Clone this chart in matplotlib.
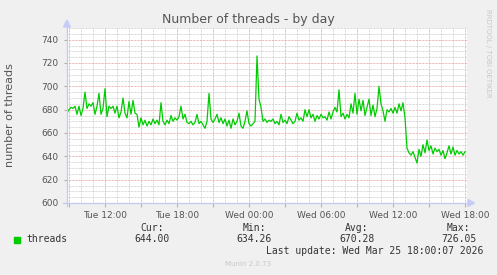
import pandas as pd
import matplotlib
matplotlib.use("Agg")
import matplotlib.pyplot as plt
import matplotlib.dates as mdates
from matplotlib.patches import Polygon, Rectangle
from matplotlib.lines import Line2D
from matplotlib.ticker import MultipleLocator, FixedLocator

# ---------- Data (10 min samples, Tue 08:50 -> Wed 18:00) ----------
times = pd.date_range("2026-03-24 08:50", "2026-03-25 18:00", freq="10min")

threads = [
    677, 680, 682, 681, 683, 676, 683, 675, 681, 695,
    681, 685, 683, 686, 676, 683, 694, 676, 681, 698,
    674, 683, 681, 683, 677, 683, 673, 678, 690, 677,
    673, 687, 676, 688, 677,
    676, 665, 673, 667, 671, 666, 670, 667, 672, 668,
    671, 667, 686, 670, 667, 671, 668, 675, 670, 673,
    671, 674, 683, 672, 676, 669, 668, 670, 667, 669,
    676, 668, 670, 667, 664, 670, 694, 672, 669, 672,
    676, 669, 673, 668, 672, 666, 671, 664, 672, 667,
    670, 677, 666, 664, 670, 679, 668,
    666, 668, 670, 726.05, 689, 682, 670, 672,
    669, 671, 670, 672, 668, 670, 667, 676, 669, 671,
    668, 674, 671, 668, 670, 677, 671, 673, 670, 680,
    674, 680, 673, 676, 670, 675, 672, 676, 673, 674,
    671, 678, 672, 678, 682, 678, 697, 674, 677, 672,
    676, 673, 685, 677, 694, 676, 689, 679, 688, 675,
    682, 689, 675, 684, 674, 681, 700, 685, 679, 670,
    680, 678, 681, 677, 682, 677, 685, 679, 686, 673,
    647, 643, 641, 644, 639, 634.26, 646, 640, 650, 643,
    654, 645, 649, 642, 647, 644, 646, 641, 645, 638,
    643, 649, 642, 648, 641, 645, 642, 644, 641, 644,
]

stat_names = ["Cur:", "Min:", "Avg:", "Max:"]
stat_values = ["644.00", "634.26", "670.28", "726.05"]
y_ticks = [600, 620, 640, 660, 680, 700, 720, 740]

# ---------- Figure ----------
W, H = 497, 275
BG = "#F0F0F0"
GREEN = "#00CC00"
AXIS = "#C4C8F0"
TXT = "#555555"


def fx(px):
    return px / W


def fy(py):
    return 1 - py / H


fig = plt.figure(figsize=(W / 100, H / 100), dpi=100, facecolor=BG)
ax = fig.add_axes([fx(67), fy(203), fx(467) - fx(67), fy(28) - fy(203)])
ax.set_facecolor("white")

ax.plot(times, threads, color=GREEN, lw=0.9, zorder=3)

ax.set_xlim(pd.Timestamp("2026-03-24 08:50"), pd.Timestamp("2026-03-25 18:10"))
ax.set_ylim(600, 750)

# grid: minor grey, major red, both dotted
ax.xaxis.set_major_locator(mdates.HourLocator(byhour=range(0, 24, 3)))
ax.xaxis.set_minor_locator(mdates.HourLocator())


def fmt_time(x, pos=None):
    t = mdates.num2date(x)
    return t.strftime("%a %H:%M") if t.hour % 6 == 0 else ""


ax.xaxis.set_major_formatter(plt.FuncFormatter(fmt_time))
ax.yaxis.set_major_locator(FixedLocator(y_ticks))
ax.yaxis.set_minor_locator(MultipleLocator(5))

dot = (0, (0.72, 0.72))
ax.grid(which="minor", color="#CDCDCD", lw=0.72, ls=dot, zorder=1)
ax.grid(which="major", color="#E6A0A0", lw=0.72, ls=dot, zorder=2)
ax.set_axisbelow(True)

ax.tick_params(axis="x", which="major", length=3, color="#E8A0A0",
               labelsize=6.5, labelcolor=TXT, pad=3)
ax.tick_params(axis="x", which="minor", length=0)
ax.tick_params(axis="y", which="major", length=2, color="#B0B0B0",
               labelsize=6.5, labelcolor=TXT, pad=4)
ax.tick_params(axis="y", which="minor", length=0)

for s in ax.spines.values():
    s.set_visible(False)

# axis lines with arrows
fig.add_artist(Line2D([fx(67), fx(67)], [fy(206), fy(25)], color=AXIS, lw=0.9))
fig.add_artist(Line2D([fx(63), fx(469)], [fy(203), fy(203)], color=AXIS, lw=0.9))
fig.add_artist(Polygon([(fx(63.5), fy(27)), (fx(70.5), fy(27)), (fx(67), fy(20))],
                       closed=True, color="#C8CCF8", transform=fig.transFigure))
fig.add_artist(Polygon([(fx(468), fy(199.5)), (fx(468), fy(206.5)), (fx(474.5), fy(203))],
                       closed=True, color="#C8CCF8", transform=fig.transFigure))

# ---------- Texts ----------
fig.text(fx(248), fy(19), "Number of threads - by day", ha="center", va="center",
         fontsize=9, color=TXT)
fig.text(fx(10), fy(115), "number of threads", ha="center", va="center",
         rotation=90, fontsize=8, color=TXT)
fig.text(fx(488), fy(53), "RRDTOOL / TOBI OETIKER", ha="center", va="center",
         rotation=270, fontsize=5, color="#C8C8C8")

mono = "DejaVu Sans Mono"
fig.add_artist(Rectangle((fx(14), fy(242.5)), fx(6), fy(236.5) - fy(242.5),
                         color=GREEN, transform=fig.transFigure))
fig.text(fx(26.5), fy(239.5), "threads", ha="left", va="center",
         fontsize=7, family=mono, color="#333333")

stat_x = [152, 254.5, 357, 458.5]
for x, name, val in zip(stat_x, stat_names, stat_values):
    fig.text(fx(x), fy(228), name, ha="center", va="center",
             fontsize=7, family=mono, color="#333333")
    fig.text(fx(x), fy(239.5), val, ha="center", va="center",
             fontsize=7, family=mono, color="#333333")

fig.text(fx(483), fy(251), "Last update: Wed Mar 25 18:00:07 2026", ha="right",
         va="center", fontsize=7, family=mono, color="#333333")
fig.text(fx(248), fy(264.5), "Munin 2.0.73", ha="center", va="center",
         fontsize=5, color="#C8C8C8")

fig.savefig("out.png", dpi=100, facecolor=BG)
